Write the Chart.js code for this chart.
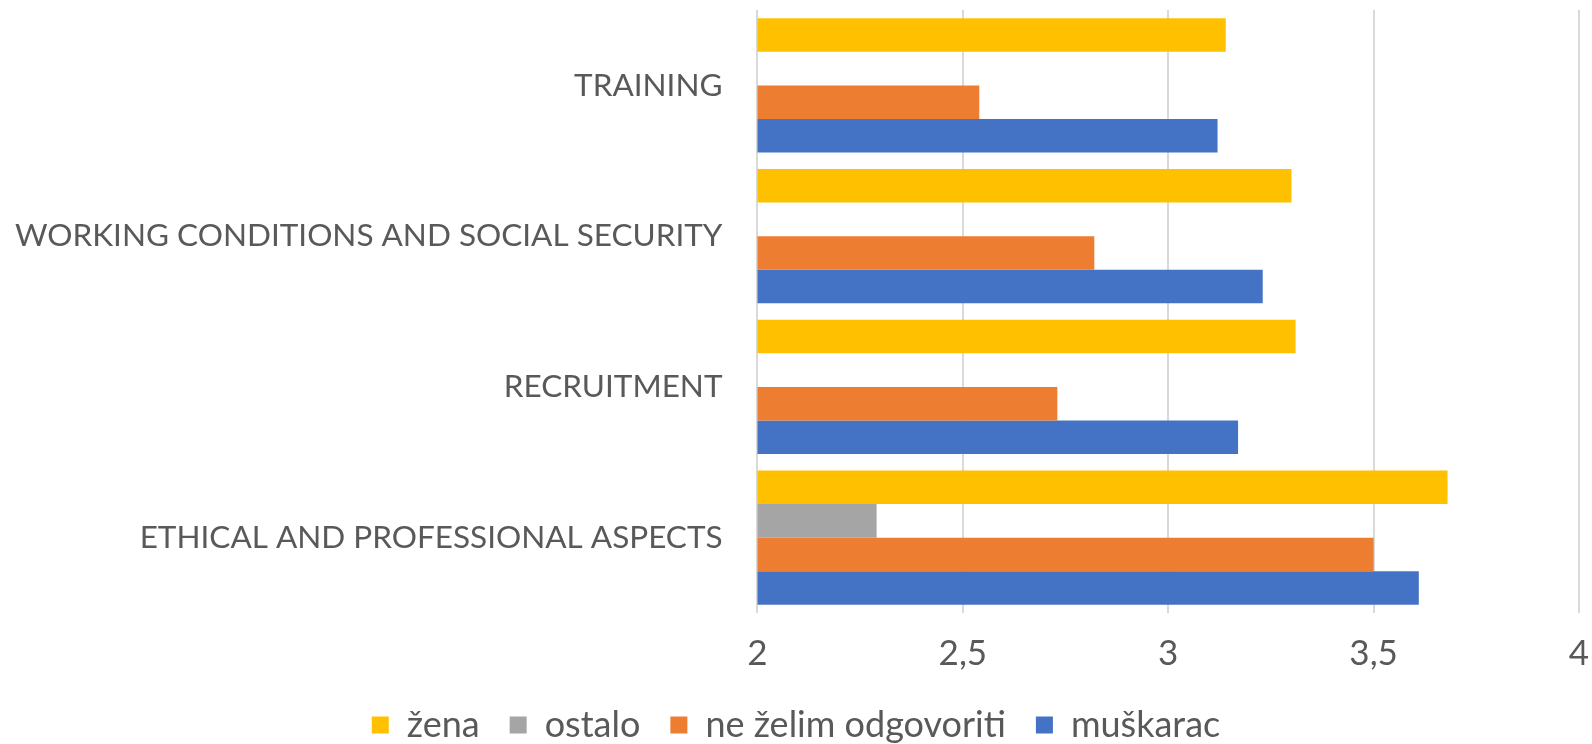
<!DOCTYPE html>
<html>
<head>
<meta charset="utf-8">
<script src="https://cdn.jsdelivr.net/npm/chart.js@4/dist/chart.umd.min.js"></script>
<style>
  html, body { margin: 0; padding: 0; background: #fff; }
  #wrap { width: 1592px; height: 744px; position: relative; }
</style>
</head>
<body>
<div id="wrap"><canvas id="barChart"></canvas></div>
<script>
const categories = [
    'TRAINING',
    'WORKING CONDITIONS AND SOCIAL SECURITY',
    'RECRUITMENT',
    'ETHICAL AND PROFESSIONAL ASPECTS'
];
const zena = [3.14, 3.30, 3.31, 3.68];
const ostalo = [null, null, null, 2.29];
const neZelim = [2.54, 2.82, 2.73, 3.50];
const muskarac = [3.12, 3.23, 3.17, 3.61];
const xTicks = [2, 2.5, 3, 3.5, 4];

const textColor = '#595959';
const fontFamily = 'Lato, "Open Sans", sans-serif';

const ctx = document.getElementById('barChart').getContext('2d');
const barChart = new Chart(ctx, {
    type: 'bar',
    data: {
        labels: categories,
        datasets: [
            { label: 'žena', data: zena, backgroundColor: '#FFC000' },
            { label: 'ostalo', data: ostalo, backgroundColor: '#A5A5A5' },
            { label: 'ne želim odgovoriti', data: neZelim, backgroundColor: '#ED7D31' },
            { label: 'muškarac', data: muskarac, backgroundColor: '#4472C4' }
        ]
    },
    options: {
        indexAxis: 'y',
        responsive: true,
        maintainAspectRatio: false,
        animation: false,
        datasets: {
            bar: {
                barPercentage: 1.0,
                categoryPercentage: 0.89
            }
        },
        plugins: {
            legend: {
                position: 'bottom',
                labels: {
                    color: textColor,
                    font: { family: fontFamily, size: 36 },
                    boxWidth: 17,
                    boxHeight: 17,
                    padding: 30
                }
            },
            tooltip: { enabled: false }
        },
        scales: {
            x: {
                min: xTicks[0],
                max: xTicks[xTicks.length - 1],
                afterBuildTicks: (axis) => {
                    axis.ticks = xTicks.map(v => ({ value: v }));
                },
                ticks: {
                    color: textColor,
                    font: { family: fontFamily, size: 35 },
                    padding: 20,
                    callback: (v) => String(v).replace('.', ',')
                },
                grid: {
                    color: '#D9D9D9',
                    lineWidth: 2,
                    drawTicks: false
                },
                border: { display: false },
                afterFit: (scale) => {
                    scale.height = 64;
                    scale.paddingLeft = 0;
                    scale.paddingRight = 13;
                }
            },
            y: {
                ticks: {
                    color: textColor,
                    font: { family: fontFamily, size: 31.5 },
                    padding: 35
                },
                grid: { display: false, drawTicks: false },
                border: { display: false },
                afterFit: (scale) => {
                    // chart.js counts tick padding twice and also pads top/bottom
                    scale.width -= 20;
                    scale.paddingTop = 0;
                    scale.paddingBottom = 0;
                }
            }
        },
        layout: {
            padding: { top: 10, right: 0, bottom: -9, left: 0 }
        }
    }
});
</script>
</body>
</html>
